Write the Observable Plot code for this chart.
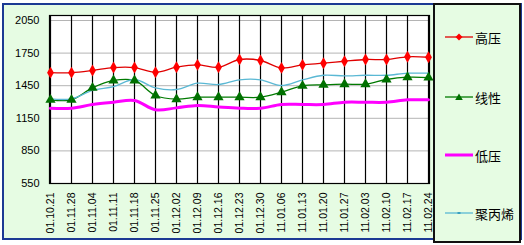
<!DOCTYPE html>
<html>
<head>
<meta charset="utf-8">
<script src="https://cdn.jsdelivr.net/npm/d3@7"></script>
<script src="https://cdn.jsdelivr.net/npm/@observablehq/plot@0.6"></script>
<style>
  body { margin: 0; background: #fff; }
  #wrap { position: relative; width: 524px; height: 245px; background: #fff; overflow: hidden; }
  #chartbg { position: absolute; left: 2px; top: 3px; width: 516px; height: 233px; background: #e6fce3; border: 2px solid #1c3a94; }
  #plot { position: absolute; left: 0; top: 0; }
  #legend { position: absolute; left: 433px; top: 3px; width: 84px; height: 236px; background: #e6fce3; border: 2px solid #111; font-family: "Noto Sans CJK SC", sans-serif; font-size: 13px; color: #000; }
  .item { position: absolute; left: 10px; height: 16px; display: flex; align-items: center; }
  .item svg { margin-right: 2px; }
</style>
</head>
<body>
<div id="wrap">
  <div id="chartbg"></div>
  <div id="plot"></div>
  <div id="legend"></div>
</div>
<script>
const dates = ["01.10.21","01.11.28","01.11.04","01.11.11","01.11.18","01.11.25","01.12.02","01.12.09","01.12.16","01.12.23","01.12.30","11.01.06","11.01.13","11.01.20","11.01.27","11.02.03","11.02.10","11.02.17","11.02.24"];
const high   = [1570,1570,1590,1617,1617,1574,1620,1642,1620,1691,1682,1614,1642,1657,1675,1691,1691,1716,1712];
const linear = [1320,1320,1430,1498,1498,1360,1326,1344,1344,1344,1344,1390,1449,1458,1464,1464,1507,1528,1525];
const low    = [1243,1243,1277,1298,1314,1228,1246,1268,1254,1243,1243,1277,1277,1277,1298,1298,1298,1320,1320];
const pp     = [1329,1329,1406,1442,1507,1430,1415,1473,1461,1504,1504,1452,1504,1546,1540,1546,1546,1565,1565];
const yTicks = [550,850,1150,1450,1750,2050];
const seriesNames = ["高压","线性","低压","聚丙烯"];

const colors = {"高压":"#e00000","线性":"#007a00","低压":"#ff00ff","聚丙烯":"#5ab8d4"};
const widths = {"高压":1.3,"线性":1.3,"低压":3,"聚丙烯":1.3};
const seriesVals = [high, linear, low, pp];
const rows = [];
seriesNames.forEach((s, k) => dates.forEach((d, i) => rows.push({series: s, date: d, value: seriesVals[k][i]})));

const plot = Plot.plot({
  width: 524,
  height: 245,
  marginLeft: 49,
  marginRight: 95,
  marginTop: 20,
  marginBottom: 62,
  style: {background: "transparent", fontFamily: "'Liberation Sans', Arial, sans-serif", fontSize: "11px", color: "#000"},
  x: {type: "point", domain: dates, padding: 0, label: null},
  y: {domain: [550, 2050], label: null},
  marks: [
    Plot.frame({fill: "#fff", stroke: "none", insetTop: -5}),
    Plot.ruleY(yTicks, {stroke: "#b4b4b4", strokeWidth: 1}),
    Plot.ruleX(dates, {stroke: "#000", strokeWidth: 1.2, insetTop: -5}),
    Plot.frame({stroke: "#000", strokeWidth: 1.2, insetTop: -5}),
    Plot.axisY({ticks: yTicks, tickSize: 0, tickPadding: 10, fontSize: 11, label: null, tickFormat: d => String(d)}),
    Plot.axisX({tickSize: 0, tickPadding: 9, tickRotate: -90, fontSize: 10.5, label: null}),
    ...seriesNames.map(s => Plot.line(rows.filter(r => r.series === s), {
      x: "date", y: "value", stroke: colors[s], strokeWidth: widths[s], curve: "catmull-rom"
    })),
    Plot.dot(rows.filter(r => r.series === "高压"), {x: "date", y: "value", symbol: "diamond", r: 3.6, fill: "#ff0000", stroke: "none"}),
    Plot.dot(rows.filter(r => r.series === "线性"), {x: "date", y: "value", symbol: "triangle", r: 3.8, fill: "#007000", stroke: "none"})
  ]
});
document.getElementById("plot").appendChild(plot);

// legend
const legend = document.getElementById("legend");
const tops = [24, 84, 142, 200];
seriesNames.forEach((s, k) => {
  const div = document.createElement("div");
  div.className = "item";
  div.style.top = tops[k] + "px";
  let marker = "";
  if (s === "高压") marker = `<path d="M14 4.5 L17.5 8 L14 11.5 L10.5 8 Z" fill="#ff0000"/>`;
  if (s === "线性") marker = `<path d="M14 4.5 L17.8 11 L10.2 11 Z" fill="#007000"/>`;
  if (s === "聚丙烯") marker = `<rect x="12.5" y="7" width="3" height="2" fill="#3aa0c0"/>`;
  div.innerHTML = `<svg width="28" height="16"><line x1="0" x2="28" y1="8" y2="8" stroke="${colors[s]}" stroke-width="${widths[s]}"/>${marker}</svg><span>${s}</span>`;
  legend.appendChild(div);
});
</script>
</body>
</html>
